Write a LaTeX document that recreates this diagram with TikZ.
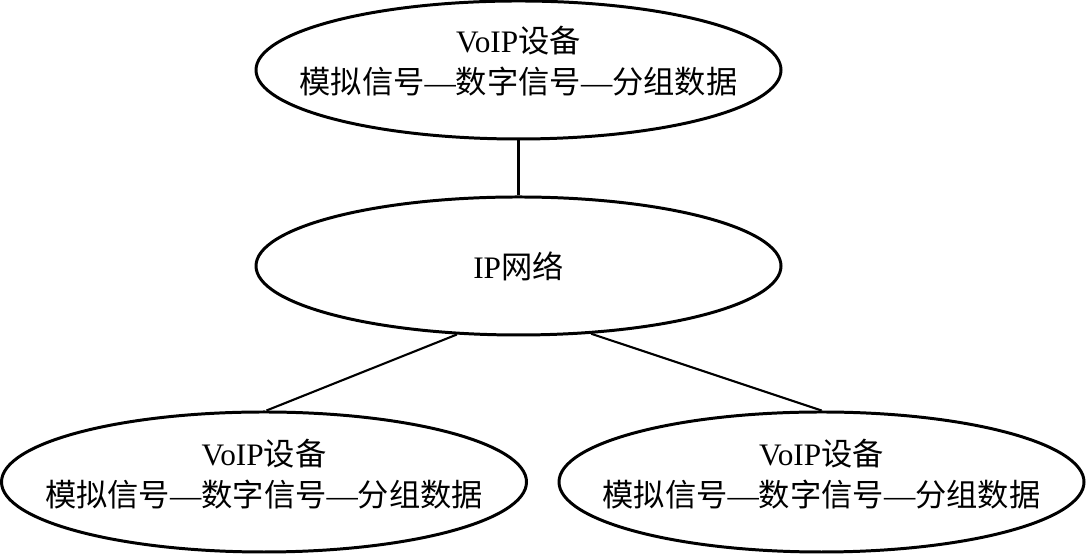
\documentclass[tikz,border=0pt]{standalone}
\usepackage{fontspec}
\setmainfont{Liberation Serif}
\newfontfamily\cjk{Noto Sans CJK SC}
\usetikzlibrary{shapes.geometric}
\begin{document}
\begin{tikzpicture}[
        dev/.style={draw, ellipse, line width=0.85pt, inner sep=0pt,
            minimum width=5.25cm, minimum height=1.38cm},
        txt/.style={align=center, inner sep=0pt,
            font=\fontsize{8.9}{11.5}\selectfont},
        link/.style={line width=0.6pt}
    ]
        \useasboundingbox (0,0) rectangle (10.86,5.55);
        \node[dev] (voiptop) at (5.185,4.85) {};
        \node[dev] (ipnet) at (5.185,2.89) {};
        \node[dev, minimum height=1.4cm] (voipleft) at (2.64,0.73) {};
        \node[dev, minimum height=1.4cm] (voipright) at (8.215,0.73) {};
        \node[txt] (voiptoptext) at ([yshift=0.09cm]voiptop.center) {VoIP{\cjk 设备}\\{\cjk 模拟信号}—{\cjk 数字信号}—{\cjk 分组数据}};
        \node[txt] (ipnettext) at (ipnet.center) {IP{\cjk 网络}};
        \node[txt] (voiplefttext) at ([yshift=0.08cm]voipleft.center) {VoIP{\cjk 设备}\\{\cjk 模拟信号}—{\cjk 数字信号}—{\cjk 分组数据}};
        \node[txt] (voiprighttext) at ([yshift=0.08cm]voipright.center) {VoIP{\cjk 设备}\\{\cjk 模拟信号}—{\cjk 数字信号}—{\cjk 分组数据}};
        \draw[link] (voiptop.south) -- (ipnet.north);
        \draw[link] (ipnet.228) -- (voipleft.88);
        \draw[link] (ipnet.317) -- (voipright.north);
    \end{tikzpicture}
\end{document}
